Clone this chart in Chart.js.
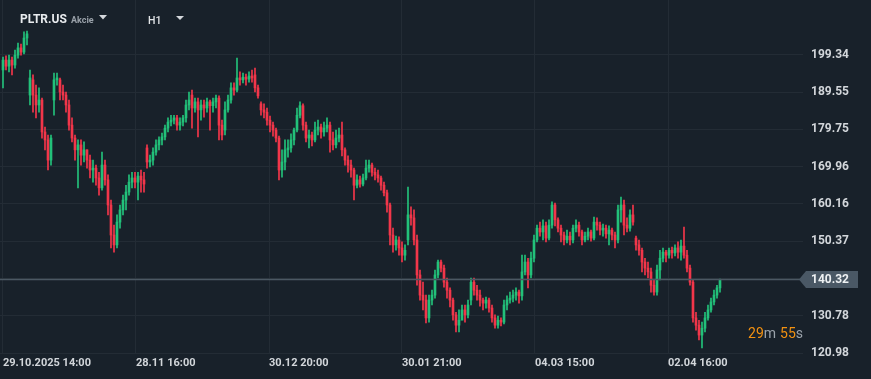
<!DOCTYPE html>
<html><head><meta charset="utf-8">
<script src="https://cdn.jsdelivr.net/npm/chart.js@4.4.1/dist/chart.umd.min.js"></script>
<style>
html,body{margin:0;padding:0;background:#18212a;overflow:hidden}
#wrap{width:871px;height:379px;position:relative}
</style></head><body>
<div id="wrap"><canvas id="c" width="871" height="379"></canvas></div>
<script>
// ---- DATA (hourly candles) ----
const opens = [
195.4,198.0,196.4,198.0,196.7,199.3,201.2,200.1,203.8,188.8,
192.8,188.8,186.2,187.5,179.1,177.0,171.7,187.5,192.8,192.8,
189.6,188.8,186.2,180.9,177.5,174.4,175.7,173.0,174.4,171.7,
169.1,169.6,167.0,164.4,170.4,166.5,159.9,152.0,149.4,155.4,
158.6,161.2,163.3,165.9,167.0,165.9,167.5,166.5,174.9,171.2,
171.7,173.8,175.7,177.0,177.8,180.1,181.7,182.2,182.8,180.9,
181.7,182.8,186.2,188.8,185.4,187.0,184.9,186.2,185.4,187.0,
186.0,187.0,188.0,180.9,179.6,184.9,187.5,190.7,190.1,193.3,
192.8,193.5,193.0,193.8,194.1,190.7,186.5,184.9,184.3,182.2,
180.9,179.6,177.5,169.1,171.2,174.4,174.9,177.0,179.6,183.5,
186.0,180.9,177.5,178.3,177.0,179.6,180.4,179.1,180.1,180.9,
177.0,175.7,177.5,178.3,174.4,171.7,170.4,169.1,165.1,166.5,
165.4,167.0,169.6,170.4,168.5,167.8,167.0,165.1,163.1,159.9,
152.0,149.4,150.7,148.6,146.7,150.7,157.3,156.5,150.7,141.5,
136.2,134.9,130.2,134.9,136.2,141.5,144.9,143.3,139.6,137.5,
134.9,131.0,128.3,129.6,132.3,131.0,134.9,139.6,137.5,136.2,
134.9,134.1,134.9,132.8,130.2,128.3,129.6,129.1,133.6,134.9,
135.4,136.2,137.0,136.0,142.3,144.9,141.5,145.9,150.7,153.8,
152.8,154.4,151.2,154.6,159.9,156.0,153.8,152.0,150.7,151.7,
150.7,153.8,154.6,152.8,150.7,151.7,152.8,151.2,155.4,154.6,
153.3,153.8,152.3,153.3,152.0,150.7,158.6,159.9,154.6,153.8,
157.3,151.2,149.4,148.0,144.9,143.3,142.3,138.8,137.0,142.8,
145.9,147.5,146.7,148.0,147.3,148.6,147.5,149.1,146.7,143.3,
139.6,130.2,128.3,125.7,127.5,130.2,132.3,134.4,136.2,138.1];
const highs = [
198.8,199.1,199.3,198.8,200.6,202.5,202.2,205.4,205.6,195.4,
194.1,191.4,190.7,188.0,180.4,178.3,178.3,194.6,194.6,193.3,
191.4,189.6,187.5,182.8,178.3,177.0,177.0,176.5,174.4,173.0,
171.7,170.4,168.5,173.8,171.7,167.8,161.2,154.6,157.3,159.9,
162.5,165.1,167.8,168.5,168.5,168.5,169.1,168.5,175.7,173.0,
174.9,177.0,177.8,178.8,180.9,182.8,183.5,183.5,183.5,182.8,
183.5,187.5,189.6,190.1,188.0,188.0,187.5,187.5,188.0,187.5,
188.0,188.8,188.6,182.2,187.0,188.8,192.0,192.0,198.5,194.9,
194.6,194.3,194.9,195.4,195.9,191.4,187.0,186.5,185.4,183.3,
181.7,180.1,178.0,174.4,177.0,177.0,178.6,180.1,185.4,187.0,
186.5,181.7,179.6,179.1,181.7,182.2,181.2,181.7,182.8,181.7,
179.1,179.6,180.1,181.7,174.9,172.8,171.7,169.6,167.8,167.5,
168.0,171.7,171.7,170.9,169.6,169.1,167.5,165.9,163.8,160.4,
153.8,151.7,151.5,150.2,149.4,164.6,159.4,158.6,152.0,142.8,
139.6,136.2,136.2,137.5,142.8,145.4,145.4,144.1,140.7,138.1,
135.4,131.7,132.3,133.6,133.6,134.9,140.7,140.7,138.8,137.5,
135.4,135.7,135.4,133.6,131.0,130.7,130.2,134.9,136.0,137.0,
137.5,138.1,137.5,146.7,146.7,145.9,147.5,152.0,154.6,155.4,
156.0,155.4,156.0,160.7,160.4,156.5,154.6,152.8,153.3,152.8,
154.6,156.0,155.4,153.3,152.8,153.8,153.3,156.7,156.5,155.4,
154.9,154.6,154.4,153.8,152.8,159.9,162.0,161.2,156.5,158.6,
159.9,151.7,150.7,148.6,145.9,144.9,143.3,140.2,144.1,148.0,
148.6,148.0,148.6,148.8,149.4,150.2,150.7,154.1,148.0,144.1,
140.2,131.7,129.6,129.1,131.7,133.6,135.4,137.5,138.8,140.4];
const lows = [
190.7,195.4,194.9,194.1,195.9,198.5,199.3,199.6,202.0,186.2,
184.3,182.8,184.3,177.5,174.4,169.1,170.4,183.5,191.4,187.5,
187.5,184.3,179.6,176.5,171.7,164.4,170.4,171.2,169.6,167.0,
165.9,165.1,162.5,163.8,165.1,157.3,148.6,147.5,148.6,153.8,
157.3,158.6,162.5,164.4,164.4,161.2,163.3,163.3,169.6,169.9,
170.4,173.0,174.4,175.7,177.0,179.1,180.7,181.2,179.6,179.6,
180.7,181.7,184.9,180.1,184.3,177.8,182.2,183.0,184.3,179.6,
184.3,185.4,177.0,177.0,178.3,184.3,186.7,188.8,189.6,191.4,
192.0,191.4,192.2,192.2,189.6,188.0,183.5,182.8,180.9,179.1,
178.0,176.5,166.5,167.2,169.1,172.5,173.8,175.7,179.1,182.8,
179.6,176.5,174.9,175.4,176.5,178.3,177.5,178.0,179.1,173.8,
174.4,174.9,176.5,172.8,170.4,168.5,167.2,161.2,164.4,164.6,
164.9,166.5,168.5,167.5,166.5,165.9,163.8,162.3,158.0,149.4,
147.5,148.0,146.7,144.9,145.4,149.4,154.6,149.4,138.8,134.9,
132.3,128.9,129.1,133.6,135.4,140.7,142.3,138.3,135.4,133.1,
129.6,126.5,126.5,130.2,129.1,130.2,133.6,136.2,134.9,133.3,
132.3,132.8,131.7,129.1,127.5,127.5,128.1,128.6,132.3,134.1,
134.4,134.9,134.1,134.9,141.5,138.1,140.7,144.9,150.2,151.7,
150.7,150.2,150.7,153.8,154.4,152.8,150.2,149.4,149.9,149.4,
149.9,152.8,151.7,149.4,150.2,150.7,150.4,150.7,153.3,152.0,
151.7,151.2,149.4,150.7,148.6,149.9,155.4,152.0,152.8,153.0,
154.6,148.0,146.7,142.3,141.5,140.7,137.0,136.2,136.2,140.2,
144.9,144.9,145.9,145.9,146.5,145.9,145.4,145.9,142.3,138.8,
129.1,127.0,124.4,122.3,126.5,129.6,131.7,133.6,135.4,137.0];
const closes = [
198.0,196.4,198.0,196.7,199.3,201.2,200.1,203.8,204.9,193.3,
188.8,186.2,187.5,179.1,177.0,171.7,177.5,192.8,193.3,189.6,
188.8,186.2,180.9,177.5,174.4,175.7,173.0,174.4,171.7,169.1,
169.6,167.0,164.4,170.4,166.5,159.9,152.0,149.4,155.4,158.6,
161.2,163.3,165.9,167.0,165.9,167.5,166.5,165.4,171.2,171.7,
173.8,175.7,177.0,177.8,180.1,181.7,182.2,182.8,180.9,181.7,
182.8,186.2,187.5,185.4,187.0,184.9,186.2,185.4,187.0,186.0,
187.0,188.0,180.9,178.3,184.9,187.5,190.7,190.1,193.3,192.8,
193.5,193.0,193.8,193.3,190.7,188.6,184.9,184.3,182.2,180.9,
179.6,177.5,169.1,171.2,174.4,174.9,177.0,179.6,183.5,186.0,
180.9,177.5,178.3,177.0,179.6,180.4,179.1,180.1,180.9,177.0,
175.7,177.5,178.3,174.4,171.7,170.4,169.1,165.1,166.5,165.4,
167.0,169.6,170.4,168.5,167.8,167.0,165.1,163.1,159.9,152.0,
149.4,150.7,148.6,146.7,148.0,157.3,156.5,150.7,141.5,136.2,
134.9,130.2,134.9,136.2,141.5,144.9,143.3,139.6,137.5,134.9,
131.0,128.3,129.6,132.3,131.0,133.6,139.6,137.5,136.2,134.9,
134.1,134.9,132.8,130.2,128.3,129.6,129.1,133.6,134.9,135.4,
136.2,137.0,136.0,142.3,144.9,141.5,145.9,150.7,153.8,152.8,
154.4,151.2,154.6,159.9,156.0,153.8,152.0,150.7,151.7,150.7,
153.8,154.6,152.8,150.7,151.7,152.8,151.2,155.4,154.6,153.3,
153.8,152.3,153.3,152.0,150.7,158.6,159.9,154.6,153.8,157.3,
155.4,149.4,148.0,144.9,143.3,142.3,138.8,137.0,142.8,145.9,
147.5,146.7,148.0,147.3,148.6,147.5,149.1,146.7,143.3,139.6,
130.2,128.3,125.7,127.5,130.2,132.3,134.4,136.2,138.1,140.32];

const xTickPositions = [0, 44.33, 88.67, 133, 177.33, 221.67];
const xTickLabels = ['29.10.2025 14:00','28.11 16:00','30.12 20:00','30.01 21:00','04.03 15:00','02.04 16:00'];
const yTickValues = [120.98,130.78,140.57,150.37,160.16,169.96,179.75,189.55,199.34];
const yMin = 120.98, yMax = 213.8;
const xMin = -1, xMax = 266.67;
const lastPrice = 140.32;
const symbol = 'PLTR.US', assetType = 'Akcie', timeframe = 'H1';
const countdownParts = ['29','m','55','s'];

// ---- STYLE ----
const BG = '#18212a', GRID = '#232c35';
const GREEN = '#22c17a', RED = '#f2364a';
const LABEL = '#d2d6da';
const FONT = 'Roboto, "Liberation Sans", sans-serif';

const idx = closes.map((_, i) => i);
const colors = idx.map(i => closes[i] >= opens[i] ? GREEN : RED);

const bgPlugin = {
  id: 'bg',
  beforeDraw(chart) {
    const c = chart.ctx;
    c.save(); c.fillStyle = BG; c.fillRect(0, 0, chart.width, chart.height); c.restore();
  }
};

const overlayPlugin = {
  id: 'overlay',
  afterDraw(chart) {
    const c = chart.ctx, a = chart.chartArea, ys = chart.scales.y;
    const py = Math.round(ys.getPixelForValue(lastPrice)) + 0.5;
    c.save();
    // current price line
    c.strokeStyle = '#4b5863'; c.lineWidth = 1.5;
    c.beginPath(); c.moveTo(a.left, py); c.lineTo(a.right, py); c.stroke();
    // price tag
    const tip = a.right - 4, bl = a.right + 3, br = a.right + 55, h = 8.5;
    c.fillStyle = '#4a5865';
    c.beginPath(); c.moveTo(tip, py); c.lineTo(bl, py - h); c.lineTo(br, py - h);
    c.lineTo(br, py + h); c.lineTo(bl, py + h); c.closePath(); c.fill();
    c.fillStyle = '#eef1f3'; c.font = 'bold 12px ' + FONT;
    c.textBaseline = 'middle'; c.textAlign = 'left';
    c.fillText(lastPrice.toFixed(2), a.right + 8, py + 0.5);
    // countdown
    c.font = '14px ' + FONT; c.textBaseline = 'alphabetic';
    const cols = ['#f29111', '#9ba3ab', '#f29111', '#9ba3ab'];
    let total = 0; const ws = countdownParts.map(p => { const w = c.measureText(p).width; total += w; return w; });
    total += 4;
    let x = a.right - total;
    countdownParts.forEach((p, i) => { c.fillStyle = cols[i]; c.fillText(p, x, 338); x += ws[i] + (i === 1 ? 4 : 0); });
    // header
    c.fillStyle = '#e8ebee'; c.font = 'bold 12px ' + FONT;
    c.fillText(symbol, 20, 23);
    c.fillStyle = '#99a1a9'; c.font = 'bold 9px ' + FONT;
    c.fillText(assetType, 71, 22.5);
    c.fillStyle = '#d4d8dc';
    c.beginPath(); c.moveTo(99, 15); c.lineTo(107, 15); c.lineTo(103, 19.5); c.closePath(); c.fill();
    c.fillStyle = '#e2e5e8'; c.font = '500 10.5px ' + FONT;
    c.fillText(timeframe, 148, 24);
    c.fillStyle = '#d4d8dc';
    c.beginPath(); c.moveTo(176, 16); c.lineTo(184, 16); c.lineTo(180, 20); c.closePath(); c.fill();
    c.restore();
  }
};

new Chart(document.getElementById('c'), {
  type: 'bar',
  data: {
    datasets: [
      { data: idx.map(i => ({ x: i, y: [lows[i], highs[i]] })), backgroundColor: colors,
        barThickness: 1, grouped: false, order: 2 },
      { data: idx.map(i => ({ x: i, y: [opens[i], closes[i]] })), backgroundColor: colors,
        barThickness: 2, minBarLength: 1, grouped: false, order: 1 }
    ]
  },
  options: {
    responsive: false, animation: false, events: [],
    layout: { padding: 0 },
    plugins: { legend: { display: false }, tooltip: { enabled: false } },
    scales: {
      x: {
        type: 'linear', min: xMin, max: xMax, offset: false,
        afterBuildTicks: s => { s.ticks = xTickPositions.map(v => ({ value: v })); },
        ticks: { autoSkip: false, maxRotation: 0, align: 'start', color: LABEL, padding: 4,
          font: { family: FONT, size: 11, weight: 'bold' },
          callback: (v, i) => xTickLabels[i] },
        grid: { color: GRID, drawTicks: false, offset: false },
        border: { display: false },
        afterFit: s => { s.height = 26; s.paddingLeft = 0; s.paddingRight = 0; }
      },
      y: {
        position: 'right', min: yMin, max: yMax,
        afterBuildTicks: s => { s.ticks = yTickValues.map(v => ({ value: v })); },
        ticks: { color: LABEL, padding: 8, font: { family: FONT, size: 12, weight: 'bold' },
          callback: v => v.toFixed(2) },
        grid: { color: GRID, drawTicks: false },
        border: { display: false },
        afterFit: s => { s.width = 68; s.paddingTop = 0; s.paddingBottom = 0; }
      }
    }
  },
  plugins: [bgPlugin, overlayPlugin]
});
</script>
</body></html>
